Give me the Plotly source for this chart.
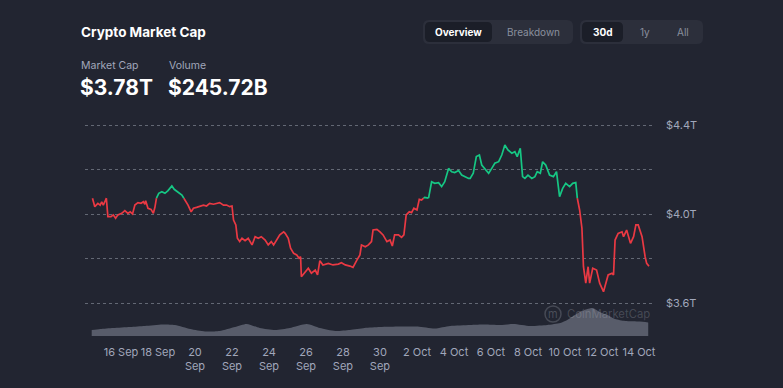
import plotly.graph_objects as go
import pandas as pd

# ---------------- data ----------------
start = pd.Timestamp("2025-09-14 00:00")

# market cap (trillion USD), hours since 14 Sep 00:00
cap_hours = [11, 14, 18, 21, 23, 25, 28, 29, 31, 35, 38, 41, 44, 49, 53, 57, 60, 63, 66, 70,
             74, 77, 79, 80, 83, 87, 90, 92, 94, 97, 101, 105, 109, 114, 117, 122, 127, 131, 135, 139,
             142, 146, 150, 155, 159, 163, 168, 172, 176, 181, 185, 189, 192, 194, 197, 199, 202, 205, 209, 213,
             218, 222, 226, 230, 235, 239, 243, 246, 250, 254, 259, 261, 265, 268, 272, 276, 279, 281, 282, 287,
             291, 295, 300, 303, 306, 310, 317, 323, 330, 334, 339, 345, 349, 354, 358, 360, 365, 369, 373, 375,
             380, 384, 388, 393, 397, 400, 403, 408, 412, 415, 418, 422, 425, 428, 432, 435, 438, 442, 447, 451,
             455, 460, 464, 468, 473, 477, 481, 486, 490, 494, 499, 501, 505, 509, 513, 516, 520, 525, 529, 533,
             538, 542, 546, 550, 555, 559, 562, 566, 569, 572, 576, 581, 585, 588, 592, 595, 599, 604, 609, 613,
             617, 621, 625, 630, 634, 638, 640, 643, 646, 648, 651, 654, 656, 660, 665, 669, 674, 677, 680, 685,
             687, 689, 693, 698, 700, 704, 707, 709, 713, 716, 719, 724, 728, 730, 733]
cap_values = [4.071, 4.033, 4.048, 4.040, 4.055, 4.040, 4.063, 4.071, 3.988, 3.988, 3.996, 3.981, 3.996, 4.003, 4.015, 4.003, 4.010, 4.000, 4.040, 4.051,
              4.048, 4.055, 4.044, 4.060, 4.026, 4.021, 4.003, 4.030, 4.071, 4.093, 4.100, 4.093, 4.105, 4.126, 4.111, 4.100, 4.085, 4.063, 4.040, 4.010,
              4.026, 4.030, 4.033, 4.040, 4.036, 4.048, 4.044, 4.048, 4.051, 4.040, 4.040, 4.033, 4.036, 3.973, 3.951, 3.891, 3.876, 3.891, 3.880, 3.891,
              3.861, 3.898, 3.891, 3.898, 3.883, 3.861, 3.876, 3.861, 3.883, 3.906, 3.920, 3.913, 3.891, 3.846, 3.823, 3.816, 3.801, 3.808, 3.718, 3.741,
              3.756, 3.734, 3.748, 3.726, 3.790, 3.771, 3.778, 3.771, 3.775, 3.781, 3.771, 3.766, 3.760, 3.793, 3.816, 3.861, 3.853, 3.861, 3.876, 3.928,
              3.931, 3.920, 3.906, 3.876, 3.883, 3.856, 3.906, 3.906, 3.895, 3.906, 3.996, 4.010, 4.006, 4.026, 4.018, 4.066, 4.063, 4.075, 4.071, 4.145,
              4.138, 4.141, 4.123, 4.145, 4.205, 4.190, 4.186, 4.195, 4.175, 4.168, 4.160, 4.160, 4.183, 4.258, 4.265, 4.220, 4.205, 4.183, 4.205, 4.228,
              4.235, 4.265, 4.310, 4.288, 4.273, 4.280, 4.258, 4.295, 4.168, 4.160, 4.175, 4.160, 4.168, 4.190, 4.183, 4.235, 4.220, 4.175, 4.168, 4.190,
              4.078, 4.115, 4.138, 4.123, 4.138, 4.141, 4.071, 4.018, 3.936, 3.763, 3.689, 3.763, 3.689, 3.756, 3.748, 3.689, 3.651, 3.689, 3.726, 3.734,
              3.726, 3.883, 3.913, 3.920, 3.898, 3.928, 3.898, 3.868, 3.898, 3.951, 3.951, 3.898, 3.808, 3.778, 3.765]

# 24h volume (billion USD), hours since 14 Sep 00:00
vol_hours = [10, 21, 38, 60, 79, 102, 118, 138, 157, 176, 196, 211, 228, 248, 267, 289, 306, 326, 345, 364,
             384, 410, 433, 455, 475, 501, 520, 540, 557, 579, 601, 618, 627, 637, 644, 653, 660, 669, 679, 689,
             702, 721, 732]
vol_values = [120, 140, 160, 180, 200, 230, 220, 140, 90, 100, 180, 240, 160, 120, 160, 240, 160, 100, 120, 160,
              180, 190, 190, 150, 200, 220, 230, 220, 240, 200, 220, 260, 320, 420, 490, 540, 560, 480, 420, 340,
              300, 290, 270]

tick_dates = ["2025-09-16", "2025-09-18", "2025-09-20", "2025-09-22", "2025-09-24", "2025-09-26",
              "2025-09-28", "2025-09-30", "2025-10-02", "2025-10-04", "2025-10-06", "2025-10-08",
              "2025-10-10", "2025-10-12", "2025-10-14"]
tick_labels = ["16 Sep", "18 Sep", "20<br>Sep", "22<br>Sep", "24<br>Sep", "26<br>Sep", "28<br>Sep",
               "30<br>Sep", "2 Oct", "4 Oct", "6 Oct", "8 Oct", "10 Oct", "12 Oct", "14 Oct"]
y_ticks = [3.6, 3.8, 4.0, 4.2, 4.4]
y_labels = ["$3.6T", "", "$4.0T", "", "$4.4T"]

title = "Crypto Market Cap"
stat_names = ["Market Cap", "Volume"]
stat_values = ["$3.78T", "$245.72B"]

# ---------------- layout geometry (pixels) ----------------
FW, FH = 783, 388
L, R, T, B = 85, 655, 118, 336
W, H = R - L, B - T


def px(x):
    return (x - L) / W


def py(y):
    return (B - y) / H


BG = "#222531"
GREEN = "#16c784"
RED = "#ea3943"
GRAY = "#a1a7bb"
FONT = "Inter, Roboto, sans-serif"

# ---------------- split line into green / red by first value ----------------
base = cap_values[0]
parts = {True: ([], []), False: ([], [])}
cur = cap_values[0] > base
parts[cur][0].append(cap_hours[0])
parts[cur][1].append(cap_values[0])
for i in range(1, len(cap_hours)):
    s = cap_values[i] > base
    if s != cur:
        v0, v1 = cap_values[i - 1], cap_values[i]
        h0, h1 = cap_hours[i - 1], cap_hours[i]
        t = (base - v0) / (v1 - v0) if v1 != v0 else 0
        hc = h0 + t * (h1 - h0)
        parts[cur][0].extend([hc, None])
        parts[cur][1].extend([base, None])
        parts[s][0].append(hc)
        parts[s][1].append(base)
        cur = s
    parts[s][0].append(cap_hours[i])
    parts[s][1].append(cap_values[i])


def to_time(hs):
    return [None if h is None else start + pd.Timedelta(hours=h) for h in hs]


fig = go.Figure()

fig.add_trace(go.Scatter(
    x=to_time(vol_hours), y=vol_values, yaxis="y2", mode="lines",
    line=dict(width=0, shape="spline", smoothing=0.6), fill="tozeroy",
    fillcolor="rgba(125,130,145,0.6)", hoverinfo="skip", showlegend=False))

for side, col in [(False, RED), (True, GREEN)]:
    fig.add_trace(go.Scatter(
        x=to_time(parts[side][0]), y=parts[side][1], mode="lines",
        line=dict(color=col, width=1.7), connectgaps=False,
        hoverinfo="skip", showlegend=False))

# ---------------- header ----------------
ann = []
ann.append(dict(x=px(79), y=py(32), text=f"<b>{title}</b>", font=dict(size=13.5, color="white", family=FONT)))
ann.append(dict(x=px(79), y=py(65), text=stat_names[0], font=dict(size=10.5, color=GRAY, family=FONT)))
ann.append(dict(x=px(167), y=py(65), text=stat_names[1], font=dict(size=10.5, color=GRAY, family=FONT)))
ann.append(dict(x=px(78), y=py(88), text=f"<b>{stat_values[0]}</b>", font=dict(size=21, color="white", family=FONT)))
ann.append(dict(x=px(166), y=py(88), text=f"<b>{stat_values[1]}</b>", font=dict(size=21, color="white", family=FONT)))


def rrect(x0, y0, x1, y1, r, color):
    X = px
    Y = py
    p = (f"M {X(x0 + r)},{Y(y0)} L {X(x1 - r)},{Y(y0)} Q {X(x1)},{Y(y0)} {X(x1)},{Y(y0 + r)} "
         f"L {X(x1)},{Y(y1 - r)} Q {X(x1)},{Y(y1)} {X(x1 - r)},{Y(y1)} "
         f"L {X(x0 + r)},{Y(y1)} Q {X(x0)},{Y(y1)} {X(x0)},{Y(y1 - r)} "
         f"L {X(x0)},{Y(y0 + r)} Q {X(x0)},{Y(y0)} {X(x0 + r)},{Y(y0)} Z")
    return dict(type="path", path=p, xref="paper", yref="paper", fillcolor=color,
                line=dict(width=0), layer="below")


shapes = [
    rrect(423, 20, 573, 44, 6, "#2c2f3b"),
    rrect(425, 22, 492, 42, 5, "#1b1e28"),
    rrect(580, 20, 703, 44, 6, "#2c2f3b"),
    rrect(582, 22, 623, 42, 5, "#1b1e28"),
]

buttons = [("Overview", 458, True), ("Breakdown", 533, False),
           ("30d", 603, True), ("1y", 645, False), ("All", 683, False)]
for txt, cx, sel in buttons:
    ann.append(dict(x=px(cx), y=py(32), xanchor="center",
                    text=f"<b>{txt}</b>" if sel else txt,
                    font=dict(size=10, color="white" if sel else "#8a8f9e", family=FONT)))

# watermark
shapes.append(dict(type="circle", xref="paper", yref="paper",
                   x0=px(545), x1=px(561), y0=py(306), y1=py(322),
                   line=dict(color="rgba(200,205,215,0.22)", width=1.5)))
ann.append(dict(x=px(553), y=py(314), xanchor="center", text="m",
                font=dict(size=11, color="rgba(200,205,215,0.25)", family=FONT)))
ann.append(dict(x=px(565), y=py(314), text="CoinMarketCap",
                font=dict(size=11.3, color="rgba(200,205,215,0.22)", family=FONT)))

for a in ann:
    a.setdefault("xanchor", "left")
    a.update(xref="paper", yref="paper", yanchor="middle", showarrow=False)

yr0 = 3.6 - (B - 303) / 222.5
yr1 = 4.4 + (125 - T) / 222.5

fig.update_layout(
    width=FW, height=FH,
    margin=dict(l=L, r=FW - R, t=T, b=FH - B, pad=0),
    paper_bgcolor=BG, plot_bgcolor=BG,
    font=dict(family=FONT, color=GRAY),
    showlegend=False,
    annotations=ann, shapes=shapes,
    xaxis=dict(type="date",
               range=[start + pd.Timedelta(hours=1.3), start + pd.Timedelta(hours=740.8)],
               tickvals=tick_dates, ticktext=tick_labels, showgrid=False, zeroline=False,
               showline=False, ticks="", ticklabelstandoff=8,
               tickfont=dict(size=11, color=GRAY, family=FONT)),
    yaxis=dict(side="right", range=[yr0, yr1], tickvals=y_ticks, ticktext=y_labels,
               showgrid=True, gridcolor="rgba(180,186,200,0.45)", griddash="dot", gridwidth=1,
               zeroline=False, showline=False, ticks="", ticklabelstandoff=10,
               tickfont=dict(size=11, color=GRAY, family=FONT)),
    yaxis2=dict(overlaying="y", range=[0, 4360], visible=False),
)

fig.write_html("out.html", config={"displayModeBar": False},
               post_script="document.body.style.margin='0';document.body.style.background='%s';" % BG)
